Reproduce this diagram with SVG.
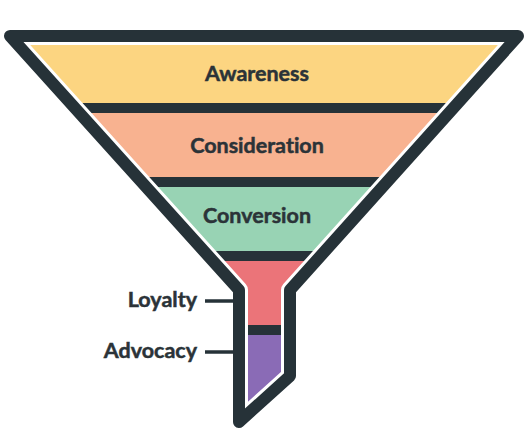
<svg xmlns="http://www.w3.org/2000/svg" width="530" height="442" viewBox="0 0 530 442">
<style>
.lbl{font-family:Lato,"Open Sans",sans-serif;font-weight:700;font-size:21.5px;fill:#2b3338;stroke:#2b3338;stroke-width:0.5;font-variant-ligatures:none;font-feature-settings:"liga" 0,"dlig" 0}
.stage{text-anchor:middle}
.side{text-anchor:end}
.sep{fill:#263238}
.conn{stroke:#263238;stroke-width:3.5;fill:none}
</style>
<defs>
<clipPath id="inner"><path d="M10,36 L518,36 L290,290 L290,376 L239,422 L239,290 Z"/></clipPath>
</defs>
<rect width="530" height="442" fill="#ffffff"/>
<g clip-path="url(#inner)">
<g id="awareness"><rect x="0" y="30" width="530" height="73" fill="#fcd581"/></g>
<rect class="sep" x="0" y="103" width="530" height="10"/>
<g id="consideration"><rect x="0" y="113" width="530" height="64" fill="#f8b290"/></g>
<rect class="sep" x="0" y="177" width="530" height="10"/>
<g id="conversion"><rect x="0" y="187" width="530" height="64" fill="#98d3b4"/></g>
<rect class="sep" x="0" y="251" width="530" height="10"/>
<g id="loyalty"><rect x="0" y="261" width="530" height="64" fill="#eb7479"/></g>
<rect class="sep" x="0" y="325" width="530" height="10"/>
<g id="advocacy"><rect x="0" y="335" width="530" height="100" fill="#8a6bb6"/></g>
</g>
<g id="funnel-outline" fill="none" stroke-linejoin="round">
<path d="M10,36 L518,36 L290,290 L290,376 L239,422 L239,290 Z" stroke="#ffffff" stroke-width="18"/>
<path d="M10,36 L518,36 L290,290 L290,376 L239,422 L239,290 Z" stroke="#263238" stroke-width="12"/>
</g>
<g id="connectors">
<line class="conn" x1="205" y1="301" x2="234" y2="301"/>
<line class="conn" x1="205" y1="352" x2="234" y2="352"/>
</g>
<g id="labels">
<text class="lbl stage" x="257" y="81">Awareness</text>
<text class="lbl stage" x="257" y="153">Consideration</text>
<text class="lbl stage" x="257" y="223">Conversion</text>
<text class="lbl side" x="197" y="307">Loyalty</text>
<text class="lbl side" x="197" y="358">Advocacy</text>
</g>
</svg>
